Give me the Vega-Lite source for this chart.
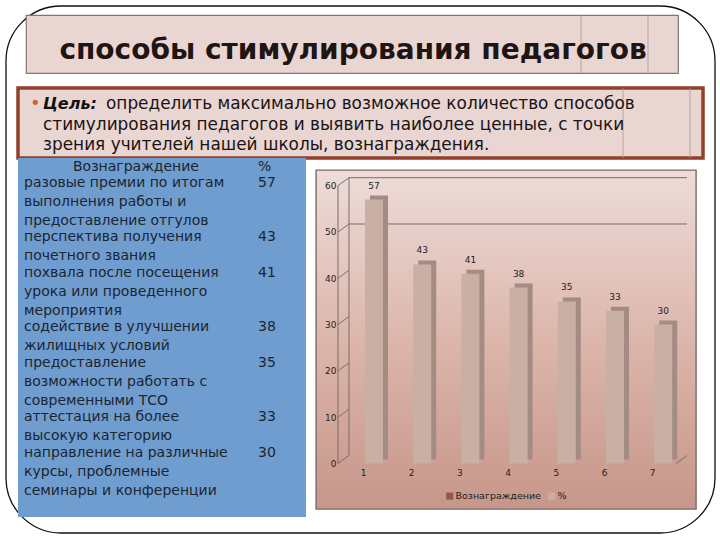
{
  "$schema": "https://vega.github.io/schema/vega-lite/v6.json",
  "padding": {"left": 5, "top": 5, "right": 0, "bottom": 0},
  "background": "#ffffff",
  "config": {
    "view": {"stroke": null},
    "font": "DejaVu Sans",
    "text": {"font": "DejaVu Sans"},
    "concat": {"spacing": 0}
  },
  "datasets": {
    "rewards": [
      {"n": 1, "pct": 57, "startLine": 0, "reward": "разовые премии по итогам\nвыполнения работы и\nпредоставление отгулов"},
      {"n": 2, "pct": 43, "startLine": 3, "reward": "перспектива получения\nпочетного звания"},
      {"n": 3, "pct": 41, "startLine": 5, "reward": "похвала после посещения\nурока или проведенного\nмероприятия"},
      {"n": 4, "pct": 38, "startLine": 8, "reward": "содействие в улучшении\nжилищных условий"},
      {"n": 5, "pct": 35, "startLine": 10, "reward": "предоставление\nвозможности работать с\nсовременными ТСО"},
      {"n": 6, "pct": 33, "startLine": 13, "reward": "аттестация на более\nвысокую категорию"},
      {"n": 7, "pct": 30, "startLine": 15, "reward": "направление на различные\nкурсы, проблемные\nсеминары и конференции"}
    ],
    "goal": [
      {"line": 1, "col": "lead", "text": "определить максимально возможное количество способов"},
      {"line": 2, "col": "cont", "text": "стимулирования педагогов и выявить наиболее ценные, с точки"},
      {"line": 3, "col": "cont", "text": "зрения учителей нашей школы, вознаграждения."}
    ],
    "ticks": [{"v": 0}, {"v": 10}, {"v": 20}, {"v": 30}, {"v": 40}, {"v": 50}, {"v": 60}],
    "grid": [{"v": 50}, {"v": 60}]
  },
  "bounds": "flush",
  "spacing": 0,
  "vconcat": [
    {
      "width": 1, "height": 9,
      "data": {"values": [{"a": 0, "b": 1}]},
      "mark": {"type": "rect", "cornerRadius": 55, "fill": "#ffffff", "stroke": "#111111", "strokeWidth": 1.3},
      "encoding": {
        "x": {"field": "a", "type": "quantitative", "scale": {"domain": [0, 1], "range": [-12, 697]}, "axis": null},
        "x2": {"field": "b"},
        "y": {"field": "a", "type": "quantitative", "scale": {"domain": [0, 1], "range": [0, 527]}, "axis": null},
        "y2": {"field": "b"}
      }
    },
    {
      "bounds": "flush",
      "spacing": 0,
      "hconcat": [
        {"width": 8, "height": 58, "data": {"values": []}, "mark": "text"},
        {
          "width": 652, "height": 58,
          "view": {"fill": "#e9d5d2", "stroke": "#857570", "strokeWidth": 1.2},
          "data": {"values": [{"title": "способы стимулирования педагогов", "a": 555, "b": 622}]},
          "layer": [
            {
              "mark": {"type": "rule", "color": "#a89a94", "strokeWidth": 0.8},
              "encoding": {"x": {"field": "a", "type": "quantitative", "scale": {"domain": [0, 652]}, "axis": null}}
            },
            {
              "mark": {"type": "rule", "color": "#a89a94", "strokeWidth": 0.8},
              "encoding": {"x": {"field": "b", "type": "quantitative", "scale": {"domain": [0, 652]}, "axis": null}}
            },
            {
              "mark": {"type": "text", "fontSize": 28, "fontWeight": "bold", "color": "#1f1513", "dx": 1, "dy": 7},
              "encoding": {"text": {"field": "title"}}
            }
          ]
        }
      ]
    },
    {"width": 1, "height": 73, "data": {"values": []}, "mark": "text"},
    {
      "width": 685, "height": 70,
      "view": {"fill": "#e9d5d2", "stroke": "#93402a", "strokeWidth": 3.5},
      "layer": [
        {
          "data": {"values": [{"a": 605, "b": 672}]},
          "mark": {"type": "rule", "color": "#a89a94", "strokeWidth": 0.8},
          "encoding": {"x": {"field": "a", "type": "quantitative", "scale": {"domain": [0, 685]}, "axis": null}}
        },
        {
          "data": {"values": [{"a": 605, "b": 672}]},
          "mark": {"type": "rule", "color": "#a89a94", "strokeWidth": 0.8},
          "encoding": {"x": {"field": "b", "type": "quantitative", "scale": {"domain": [0, 685]}, "axis": null}}
        },
        {
          "data": {"values": [{"line": 1, "col": "cont", "text": "•"}]},
          "mark": {"type": "text", "align": "left", "fontSize": 18, "color": "#d2622e", "dx": -13},
          "encoding": {
            "x": {"field": "col", "type": "ordinal", "scale": {"type": "point", "padding": 0, "domain": ["cont", "lead"], "range": [25, 88]}, "axis": null},
            "y": {"field": "line", "type": "ordinal", "scale": {"type": "point", "padding": 0, "domain": [1, 2, 3], "range": [16, 57]}, "axis": null},
            "text": {"field": "text"}
          }
        },
        {
          "data": {"values": [{"line": 1, "col": "cont", "text": "Цель:"}]},
          "mark": {"type": "text", "align": "left", "fontSize": 16, "fontWeight": "bold", "fontStyle": "italic", "color": "#111111"},
          "encoding": {
            "x": {"field": "col", "type": "ordinal", "scale": {"type": "point", "padding": 0, "domain": ["cont", "lead"], "range": [25, 88]}, "axis": null},
            "y": {"field": "line", "type": "ordinal", "scale": {"type": "point", "padding": 0, "domain": [1, 2, 3], "range": [16, 57]}, "axis": null},
            "text": {"field": "text"}
          }
        },
        {
          "data": {"name": "goal"},
          "mark": {"type": "text", "align": "left", "fontSize": 16.9, "color": "#1a1412"},
          "encoding": {
            "x": {"field": "col", "type": "ordinal", "scale": {"type": "point", "padding": 0, "domain": ["cont", "lead"], "range": [25, 88]}, "axis": null},
            "y": {"field": "line", "type": "ordinal", "scale": {"type": "point", "padding": 0, "domain": [1, 2, 3], "range": [16, 57]}, "axis": null},
            "text": {"field": "text"}
          }
        }
      ]
    },
    {
      "bounds": "flush",
      "spacing": 10,
      "hconcat": [
        {
          "width": 288, "height": 359,
          "view": {"fill": "#6f9dcf"},
          "layer": [
            {
              "data": {"values": [{"col": "reward", "line": -1, "text": "Вознаграждение"}]},
              "mark": {"type": "text", "align": "left", "baseline": "top", "fontSize": 14, "color": "#1c2530", "dx": 49, "dy": 2},
              "encoding": {
                "x": {"field": "col", "type": "ordinal", "scale": {"type": "point", "padding": 0, "domain": ["reward", "pct"], "range": [6, 240]}, "axis": null},
                "y": {"field": "line", "type": "quantitative", "scale": {"domain": [-1, 18.94], "reverse": true}, "axis": null},
                "text": {"field": "text"}
              }
            },
            {
              "data": {"values": [{"col": "pct", "line": -1, "text": "%"}]},
              "mark": {"type": "text", "align": "left", "baseline": "top", "fontSize": 14, "color": "#1c2530", "dy": 2},
              "encoding": {
                "x": {"field": "col", "type": "ordinal", "scale": {"type": "point", "padding": 0, "domain": ["reward", "pct"], "range": [6, 240]}, "axis": null},
                "y": {"field": "line", "type": "quantitative", "scale": {"domain": [-1, 18.94], "reverse": true}, "axis": null},
                "text": {"field": "text"}
              }
            },
            {
              "data": {"name": "rewards"},
              "mark": {"type": "text", "align": "left", "baseline": "top", "fontSize": 14, "lineHeight": 19, "lineBreak": "\n", "color": "#1c2530"},
              "encoding": {
                "x": {"datum": "reward", "type": "ordinal", "scale": {"type": "point", "padding": 0, "domain": ["reward", "pct"], "range": [6, 240]}, "axis": null},
                "y": {"field": "startLine", "type": "quantitative", "scale": {"domain": [-1, 18.94], "reverse": true}, "axis": null},
                "text": {"field": "reward"}
              }
            },
            {
              "data": {"name": "rewards"},
              "mark": {"type": "text", "align": "left", "baseline": "top", "fontSize": 14, "color": "#1c2530"},
              "encoding": {
                "x": {"datum": "pct", "type": "ordinal", "scale": {"type": "point", "padding": 0, "domain": ["reward", "pct"], "range": [6, 240]}, "axis": null},
                "y": {"field": "startLine", "type": "quantitative", "scale": {"domain": [-1, 18.94], "reverse": true}, "axis": null},
                "text": {"field": "pct"}
              }
            }
          ]
        },
        {
          "bounds": "flush",
          "spacing": 0,
          "vconcat": [
            {"width": 380, "height": 12, "data": {"values": []}, "mark": "text"},
            {
              "width": 380, "height": 339,
              "view": {
                "stroke": "#7a6a66",
                "strokeWidth": 1.4,
                "fill": {
                  "gradient": "linear", "x1": 0, "y1": 0, "x2": 0, "y2": 1,
                  "stops": [
                    {"offset": 0, "color": "#eddcd9"},
                    {"offset": 0.5, "color": "#dcb6ab"},
                    {"offset": 1, "color": "#c7968a"}
                  ]
                }
              },
              "layer": [
                {
                  "data": {"name": "ticks"},
                  "mark": {"type": "rule", "color": "#7c6c66", "y2Offset": -8},
                  "encoding": {
                    "x": {"datum": 0.253, "type": "quantitative", "scale": {"domain": [-0.2033, 7.6805], "nice": false, "padding": 0}, "axis": {"values": [1, 2, 3, 4, 5, 6, 7], "format": "d", "offset": -43, "domain": false, "ticks": false, "grid": false, "title": null, "labelFont": "DejaVu Sans", "labelFontSize": 9, "labelColor": "#222222", "labelOffset": -11}},
                    "x2": {"datum": 0.481},
                    "y": {"field": "v", "type": "quantitative", "scale": {"domain": [-9.83, 63.39], "nice": false}, "axis": {"values": [0, 10, 20, 30, 40, 50, 60], "offset": -22, "domain": false, "ticks": false, "grid": false, "title": null, "labelFont": "DejaVu Sans", "labelFontSize": 9, "labelColor": "#222222", "labelPadding": 2}},
                    "y2": {"field": "v"}
                  }
                },
                {
                  "data": {"values": [{"a": 0, "b": 60}]},
                  "mark": {"type": "rule", "color": "#7c6c66"},
                  "encoding": {
                    "x": {"datum": 0.253, "type": "quantitative"},
                    "y": {"field": "a", "type": "quantitative"},
                    "y2": {"field": "b"}
                  }
                },
                {
                  "data": {"values": [{"a": 0, "b": 60}]},
                  "mark": {"type": "rule", "color": "#7c6c66", "yOffset": -8, "y2Offset": -8},
                  "encoding": {
                    "x": {"datum": 0.481, "type": "quantitative"},
                    "y": {"field": "a", "type": "quantitative"},
                    "y2": {"field": "b"}
                  }
                },
                {
                  "data": {"name": "grid"},
                  "mark": {"type": "rule", "color": "#7c6c66", "yOffset": -8},
                  "encoding": {
                    "x": {"datum": 0.481, "type": "quantitative"},
                    "x2": {"datum": 7.494},
                    "y": {"field": "v", "type": "quantitative"}
                  }
                },
                {
                  "data": {"values": [{"v": 0}]},
                  "mark": {"type": "rule", "color": "#7c6c66", "y2Offset": -8},
                  "encoding": {
                    "x": {"datum": 7.266, "type": "quantitative"},
                    "x2": {"datum": 7.494},
                    "y": {"field": "v", "type": "quantitative"},
                    "y2": {"field": "v"}
                  }
                },
                {
                  "data": {"name": "rewards"},
                  "mark": {"type": "bar", "orient": "vertical", "width": 18, "color": "#a48c82", "xOffset": 5, "yOffset": -4, "y2Offset": -4},
                  "encoding": {
                    "x": {"field": "n", "type": "quantitative"},
                    "y": {"field": "pct", "type": "quantitative"}
                  }
                },
                {
                  "data": {"name": "rewards"},
                  "mark": {"type": "bar", "orient": "vertical", "width": 18},
                  "encoding": {
                    "x": {"field": "n", "type": "quantitative"},
                    "y": {"field": "pct", "type": "quantitative"},
                    "color": {
                      "datum": "%",
                      "type": "nominal",
                      "scale": {"domain": ["Вознаграждение", "%"], "range": ["#8f5a4c", "#c8b0a6"]},
                      "legend": {"title": null, "orient": "none", "direction": "horizontal", "legendX": 427, "legendY": 485, "symbolType": "square", "symbolSize": 50, "symbolStrokeWidth": 0, "labelFont": "DejaVu Sans", "labelFontSize": 9.5, "labelColor": "#222222", "columnPadding": 6, "labelOffset": 1, "padding": 0}
                    }
                  }
                },
                {
                  "data": {"name": "rewards"},
                  "mark": {"type": "text", "fontSize": 9, "color": "#222222", "dy": -14},
                  "encoding": {
                    "x": {"field": "n", "type": "quantitative"},
                    "y": {"field": "pct", "type": "quantitative"},
                    "text": {"field": "pct"}
                  }
                }
              ]
            }
          ]
        }
      ]
    }
  ]
}
